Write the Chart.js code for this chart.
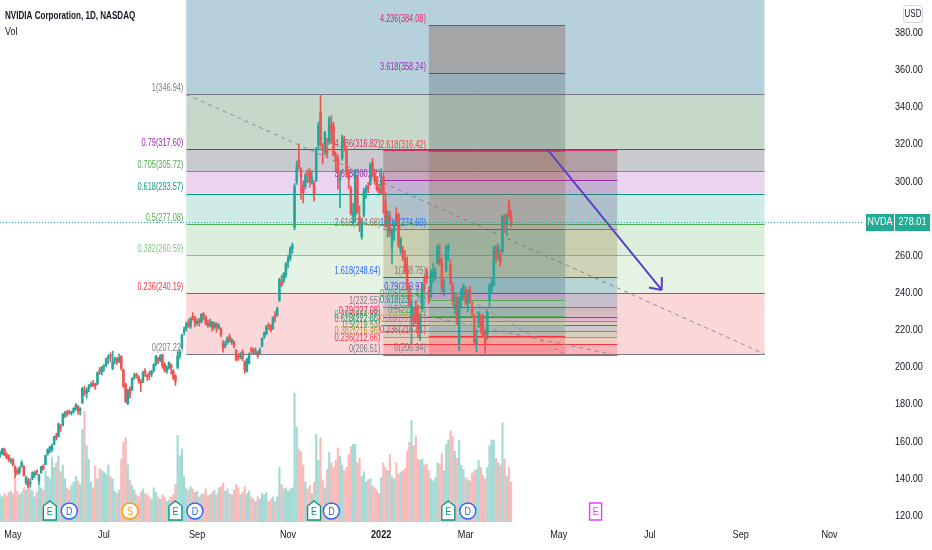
<!DOCTYPE html>
<html>
<head>
<meta charset="utf-8">
<script src="https://cdn.jsdelivr.net/npm/chart.js@4.4.0/dist/chart.umd.min.js"></script>
<style>
  html, body { margin: 0; padding: 0; background: #fff; }
  #wrap { width: 932px; height: 550px; position: relative; }
</style>
</head>
<body>
<div id="wrap"><canvas id="nvdaChart"></canvas></div>
<script>
// daily bars, index 0 = 2021-04-23 ... index 236 = 2022-03-30
const opens = [
  152.5,154.0,156.0,153.3,152.4,149.6,
  150.5,146.5,144.5,143.6,147.0,146.8,138.0,139.0,137.5,140.4,142.2,143.8,139.0,143.5,147.0,147.8,153.5,155.5,155.8,158.8,
  162.7,163.0,167.6,168.8,174.5,176.0,175.5,175.6,176.4,178.0,179.0,176.6,181.0,187.0,186.0,188.5,190.4,191.4,191.0,191.5,198.0,197.5,
  200.6,201.5,205.0,206.2,199.5,203.8,204.8,203.5,206.0,198.6,191.0,180.5,188.5,188.0,194.8,196.0,195.0,192.5,192.3,198.0,195.8,
  196.5,196.5,198.5,202.0,205.0,204.0,206.5,202.0,198.0,199.8,201.5,198.0,195.5,200.0,206.5,210.5,219.0,221.0,223.8,222.0,227.0,226.8,
  224.0,225.0,224.5,228.5,227.0,223.8,223.0,224.5,221.5,223.5,221.5,221.0,213.0,211.5,213.5,216.5,213.8,213.5,209.0,206.0,206.0,
  208.5,203.0,198.0,202.5,209.5,209.6,207.5,208.5,207.5,211.5,216.5,218.0,223.0,222.5,220.8,228.0,228.0,236.0,246.0,246.5,250.0,
  256.5,258.5,264.0,275.5,300.0,311.5,306.0,298.0,297.5,305.0,305.5,299.5,299.0,300.5,320.0,337.0,318.0,316.5,318.0,321.5,331.0,
  330.0,313.0,312.5,300.5,312.5,322.5,317.5,306.0,296.0,281.0,282.0,302.5,281.0,270.5,282.0,294.5,297.5,298.5,310.5,304.0,300.5,296.5,
  298.0,302.5,289.5,276.5,281.5,265.0,272.5,282.5,282.5,263.0,262.5,258.5,255.0,240.5,227.5,228.0,231.5,229.0,221.0,231.5,
  247.5,252.0,241.5,238.0,249.0,249.5,256.0,258.5,256.0,241.0,252.5,263.5,255.5,244.0,231.5,237.5,212.5,237.0,238.5,
  242.0,234.5,242.0,233.5,227.0,212.5,223.5,225.0,226.5,218.5,218.0,236.0,241.5,244.5,263.5,260.5,261.0,262.5,278.5,277.0,289.0,282.0
];
const highs = [
  154.8,156.5,156.6,154.2,153.0,151.2,
  151.0,147.0,145.5,146.7,149.8,147.2,141.5,140.5,140.2,143.8,144.2,144.9,142.5,146.8,147.6,152.9,156.2,157.6,158.7,163.0,
  164.6,170.0,169.3,175.2,176.4,176.9,177.1,176.5,178.3,180.6,179.6,178.4,189.2,189.8,188.9,190.8,192.1,193.0,191.6,197.6,199.9,200.6,
  201.5,205.0,206.8,207.9,208.8,205.6,205.5,207.2,206.3,199.2,191.5,188.2,189.5,194.5,196.9,197.0,195.7,193.5,198.0,199.4,196.5,
  198.0,198.5,202.0,206.5,205.5,207.0,207.3,202.5,200.8,203.0,202.0,199.0,196.0,208.5,209.6,218.0,221.7,224.5,225.8,226.8,229.5,227.5,
  226.0,226.5,229.0,229.7,227.8,225.5,226.0,224.8,224.5,224.0,223.5,221.5,214.5,214.2,216.5,218.0,215.6,214.5,209.8,207.5,208.0,
  209.5,203.6,205.0,207.8,210.8,210.5,210.5,209.0,210.5,216.0,219.0,222.5,224.0,223.0,227.2,230.0,232.5,248.0,249.5,251.0,256.5,
  260.5,264.8,267.0,299.0,311.0,320.4,307.5,300.5,304.5,306.5,307.0,306.0,300.5,318.5,332.0,346.5,320.5,327.0,323.5,335.0,335.5,
  332.0,316.0,314.5,306.0,325.0,324.5,318.5,306.5,297.5,288.5,306.5,303.5,287.0,279.5,296.5,298.0,299.5,310.0,312.5,306.5,303.0,298.5,
  307.0,304.8,294.0,284.5,284.0,274.7,279.0,286.0,283.0,270.0,265.0,263.0,259.5,244.0,236.0,232.5,236.0,233.5,228.8,245.5,
  249.5,253.5,243.5,252.5,256.0,253.5,266.0,266.5,259.0,247.5,265.5,266.8,258.0,245.5,240.5,239.0,238.0,242.5,245.0,
  243.5,242.0,243.5,235.0,228.5,220.5,230.0,228.5,228.5,220.0,230.5,245.0,248.0,265.5,265.5,266.5,263.5,282.0,282.5,282.5,290.5,284.5
];
const lows = [
  151.5,153.2,152.5,150.9,149.2,148.4,
  146.8,140.8,142.1,142.6,146.2,141.5,137.0,135.2,135.5,139.6,140.8,142.2,137.2,143.0,144.8,147.5,152.7,154.0,154.6,158.3,
  160.9,162.5,165.6,168.5,172.9,173.6,174.8,174.3,175.4,177.0,174.8,174.4,180.5,184.8,183.5,186.8,189.5,189.6,188.2,190.5,196.2,196.0,
  197.9,200.4,201.9,203.0,198.8,202.0,201.6,202.5,198.6,189.2,181.0,180.0,183.5,187.5,193.5,194.2,191.5,187.0,191.8,195.2,193.0,
  193.5,195.0,197.5,201.0,202.0,203.0,199.5,197.5,196.8,199.0,196.5,193.5,190.3,199.2,205.0,210.0,217.5,219.5,221.5,221.0,225.5,222.0,
  222.8,222.2,224.0,225.5,222.8,221.5,221.8,219.5,220.5,219.0,220.5,216.5,208.2,210.5,212.5,213.5,212.3,210.5,203.5,203.8,204.5,
  203.5,196.8,197.5,201.8,207.5,207.0,207.0,205.0,207.0,211.0,215.5,217.5,220.5,219.0,220.5,224.5,227.5,235.5,243.5,245.5,248.5,
  253.5,257.5,261.5,274.0,298.5,306.5,290.5,288.5,296.0,299.5,297.0,298.5,289.5,300.0,317.0,318.5,309.5,314.5,313.0,320.0,320.5,
  313.5,305.0,296.0,286.0,311.5,316.5,302.5,296.0,282.0,276.5,278.0,282.5,273.0,269.0,281.0,291.0,294.0,298.0,302.5,298.5,295.0,293.5,
  293.5,283.0,275.5,270.0,270.5,255.7,268.5,277.0,264.5,261.0,257.5,250.5,241.5,233.0,213.0,222.0,223.5,216.0,214.5,230.0,
  240.5,245.0,234.5,237.5,245.5,247.0,255.5,255.0,240.5,238.5,251.5,257.5,244.5,233.5,229.0,223.0,208.9,232.5,236.5,
  233.5,230.0,234.5,227.0,213.0,208.5,221.5,218.5,216.5,208.0,215.0,233.0,240.0,244.0,256.5,258.0,254.5,261.5,272.5,271.0,280.5,275.5
];
const closes = [
  153.8,155.9,153.1,151.4,150.6,150.1,
  147.6,143.5,143.0,146.0,148.8,141.8,140.6,136.0,138.3,143.3,143.3,143.6,142.0,146.5,145.4,152.6,155.7,157.0,157.7,162.4,
  162.5,169.6,167.5,174.9,175.4,175.1,175.2,176.2,178.0,179.7,176.5,178.0,188.7,186.6,187.9,189.9,190.8,190.5,190.2,197.2,197.9,200.0,
  200.8,204.7,205.3,205.9,203.0,204.3,203.0,205.0,199.6,190.1,181.6,187.8,185.8,194.1,195.2,195.6,192.9,191.6,197.2,197.2,195.0,
  196.2,197.9,201.6,206.0,203.6,206.3,200.9,198.5,199.6,202.7,200.0,194.5,192.5,206.0,208.2,217.3,220.5,223.5,222.5,226.4,226.9,223.9,
  224.7,224.0,228.7,227.6,223.5,222.5,223.8,221.0,223.6,222.0,222.6,217.5,210.5,212.5,215.8,214.5,214.8,212.0,204.2,205.0,207.2,
  204.8,198.5,204.5,207.6,209.1,208.3,208.0,206.4,209.4,215.7,218.6,222.2,222.2,220.1,226.9,227.2,231.7,247.2,244.5,250.7,255.7,
  258.3,264.0,265.8,297.5,308.0,308.0,302.0,294.0,303.5,304.0,299.8,302.5,292.6,317.0,329.9,319.6,317.4,326.7,315.0,333.8,326.8,
  314.4,311.0,306.0,303.5,324.0,319.0,304.0,301.5,283.0,283.5,306.0,283.5,277.2,278.0,295.0,296.4,296.4,309.4,303.2,300.0,295.9,294.1,
  301.2,292.9,276.0,281.8,272.5,274.0,278.2,279.9,265.7,268.9,259.0,251.4,242.4,233.7,233.7,224.5,226.0,219.0,228.4,244.9,
  246.4,248.0,236.4,251.5,251.0,251.1,265.1,256.5,242.8,242.0,264.9,265.1,245.1,236.4,233.9,223.9,237.5,241.6,243.8,
  234.9,240.4,236.6,229.4,213.5,215.1,229.8,222.6,217.0,213.3,229.7,244.0,245.2,264.5,258.2,265.2,256.3,281.5,276.9,282.2,281.6,278.01
];
// volume, millions of shares
const volumes = [
  24,22,25,23,26,27,
  25,40,27,24,26,30,28,32,29,27,22,26,33,30,28,45,40,38,57,48,
  52,58,44,50,38,30,28,32,35,40,36,33,81,97,67,55,35,30,49,38,47,45,
  44,42,50,40,38,27,25,28,55,70,74,50,37,32,28,24,22,26,29,25,24,
  22,20,30,26,22,20,24,22,18,19,22,24,33,76,58,64,40,30,28,31,29,26,
  27,22,24,25,29,23,24,26,28,24,30,31,34,27,29,25,24,28,33,30,24,
  26,31,25,27,22,20,18,22,20,25,24,26,18,20,22,18,22,48,33,29,30,
  27,29,30,113,83,64,62,50,35,29,32,25,35,77,54,74,37,30,46,61,52,
  48,54,65,58,50,45,48,59,66,68,68,52,56,40,44,35,37,38,32,30,28,25,
  39,52,48,45,59,40,38,52,42,44,45,47,62,70,89,67,75,55,54,55,
  50,51,45,38,36,39,52,51,60,45,68,72,80,75,62,56,72,50,46,
  39,37,36,43,45,46,54,48,41,38,48,67,72,72,56,52,50,87,55,40,48,35
];

const xTickPos = [6, 48, 91, 133, 176, 215, 258, 300, 342, 383];
const xTickLabels = ['May', 'Jul', 'Sep', 'Nov', '2022', 'Mar', 'May', 'Jul', 'Sep', 'Nov'];
const priceTicks = [120, 140, 160, 180, 200, 220, 240, 260, 280, 300, 320, 340, 360, 380];

// corporate events shown under the volume (bar index, kind)
const eventIdx = [23, 32, 60, 81, 90, 145, 153, 207, 216, 275];
const eventKind = ['E', 'D', 'S', 'E', 'D', 'E', 'D', 'E', 'D', 'F'];

// fib retracements drawn on the chart
const fibRatios = ['0', '0.236', '0.382', '0.5', '0.618', '0.705', '0.79', '1', '1.618', '2.618', '3.618', '4.236'];
const fib1Prices = [207.22, 240.19, 260.59, 277.08, 293.57, 305.72, 317.60, 346.94, 433.29];
const fib2Prices = [206.51, 212.66, 216.46, 219.53, 222.60, 224.87, 227.08, 232.55, 248.64, 274.68, 300.72, 316.82];
const fib3Prices = [206.94, 216.81, 222.91, 227.85, 232.78, 236.42, 239.97, 248.75, 274.60, 316.42, 358.24, 384.08];

const lastPrice = 278.01;
const arrowFrom = [253, 317.0];
const arrowTo = [305.5, 241.7];

const FONT = "'Liberation Sans', Arial, sans-serif";
const UP = '#26a69a', DOWN = '#ef5350';
const TEXT = '#131722';

const fibs = [
  {
    from: 86, to: 353, prices: fib1Prices,
    colors: ['#787b86', '#f23645', '#81c784', '#4caf50', '#089981', '#4caf50', '#9c27b0', '#787b86', '#2962ff'],
    fills: ['rgba(242,54,69,0.2)', 'rgba(129,199,132,0.2)', 'rgba(76,175,80,0.2)', 'rgba(8,153,129,0.2)',
            'rgba(156,39,176,0.2)', 'rgba(120,123,134,0.4)', 'rgba(100,150,110,0.37)', 'rgba(90,150,175,0.44)']
  },
  {
    from: 177, to: 285, prices: fib2Prices,
    colors: ['#787b86', '#f23645', '#b39c2b', '#4caf50', '#089981', '#4caf50', '#e91e63', '#787b86', '#2962ff', '#b5655a', '#9c27b0', '#d6336c'],
    fills: ['rgba(242,54,69,0.22)', 'rgba(180,160,60,0.2)', 'rgba(76,175,80,0.2)', 'rgba(8,153,129,0.2)',
            'rgba(76,175,80,0.2)', 'rgba(156,39,176,0.2)', 'rgba(120,123,134,0.3)', 'rgba(40,120,160,0.25)',
            'rgba(140,110,40,0.25)', 'rgba(100,95,135,0.3)', 'rgba(120,60,70,0.3)']
  },
  {
    from: 198, to: 261, prices: fib3Prices,
    colors: ['#787b86', '#f23645', '#b39c2b', '#4caf50', '#089981', '#4caf50', '#7b3fc4', '#787b86', '#2962ff', '#f23645', '#9c27b0', '#e91e63'],
    fills: ['rgba(242,54,69,0.25)', 'rgba(60,110,110,0.22)', 'rgba(76,175,80,0.2)', 'rgba(8,153,129,0.25)',
            'rgba(76,175,80,0.2)', 'rgba(156,39,176,0.2)', 'rgba(60,110,130,0.3)', 'rgba(60,110,110,0.3)',
            'rgba(150,90,50,0.25)', 'rgba(60,70,80,0.25)', 'rgba(140,110,100,0.45)']
  }
];

const isUp = opens.map((o, i) => closes[i] >= o);

// narrow text, the screenshot's UI font is condensed
function text(ctx, str, x, y, size, color, align, weight, squeeze) {
  const sq = squeeze || 0.85;
  ctx.save();
  ctx.font = (weight || 'normal') + ' ' + size + 'px ' + FONT;
  ctx.fillStyle = color;
  ctx.textBaseline = 'middle';
  ctx.textAlign = 'left';
  const w = ctx.measureText(str).width * sq;
  const left = align === 'right' ? x - w : align === 'center' ? x - w / 2 : x;
  ctx.translate(left, y);
  ctx.scale(sq, 1);
  ctx.fillText(str, 0, 0);
  ctx.restore();
}

const fibPlugin = {
  id: 'fibs',
  beforeDatasetsDraw(chart) {
    const { ctx, chartArea: a, scales: { x, y } } = chart;
    ctx.save();
    ctx.beginPath();
    ctx.rect(a.left, a.top, a.right - a.left, a.bottom - a.top);
    ctx.clip();
    fibs.forEach(f => {
      const x0 = x.getPixelForValue(f.from), x1 = x.getPixelForValue(f.to);
      f.fills.forEach((c, k) => {
        const ya = y.getPixelForValue(f.prices[k]), yb = y.getPixelForValue(f.prices[k + 1]);
        ctx.fillStyle = c;
        ctx.fillRect(x0, yb, x1 - x0, ya - yb);
      });
      ctx.lineWidth = 1;
      f.prices.forEach((p, k) => {
        const yy = Math.round(y.getPixelForValue(p)) + 0.5;
        ctx.strokeStyle = f.colors[k];
        ctx.beginPath();
        ctx.moveTo(x0, yy);
        ctx.lineTo(x1, yy);
        ctx.stroke();
      });
      f.prices.forEach((p, k) => {
        text(ctx, fibRatios[k] + '(' + p.toFixed(2) + ')', x0 - 3, y.getPixelForValue(p) - 6, 10.5, f.colors[k], 'right', 'normal', 0.7);
      });
      ctx.strokeStyle = '#8a8d96';
      ctx.setLineDash([4, 4]);
      ctx.beginPath();
      ctx.moveTo(x0, y.getPixelForValue(f.prices[7]));
      ctx.lineTo(x1, y.getPixelForValue(f.prices[0]));
      ctx.stroke();
      ctx.setLineDash([]);
    });
    ctx.restore();
  }
};

function drawEvent(ctx, cx, cy, kind) {
  const col = { E: '#089981', D: '#2962ff', S: '#ff9800', F: '#e040fb' }[kind];
  ctx.lineWidth = 1.4;
  ctx.strokeStyle = col;
  ctx.fillStyle = '#fff';
  ctx.beginPath();
  if (kind === 'E') {
    ctx.moveTo(cx, cy - 10);
    ctx.lineTo(cx + 6.5, cy - 5);
    ctx.lineTo(cx + 6.5, cy + 9);
    ctx.lineTo(cx - 6.5, cy + 9);
    ctx.lineTo(cx - 6.5, cy - 5);
    ctx.closePath();
  } else if (kind === 'F') {
    ctx.rect(cx - 6, cy - 8, 12, 17);
  } else {
    ctx.arc(cx, cy, 8, 0, Math.PI * 2);
  }
  ctx.fill();
  ctx.stroke();
  text(ctx, kind === 'F' ? 'E' : kind, cx, cy + 1, 10.5, col, 'center', 'normal', 0.85);
}

const overlayPlugin = {
  id: 'overlay',
  afterDraw(chart) {
    const { ctx, chartArea: a, scales: { x, y } } = chart;
    ctx.save();

    // axis labels
    priceTicks.forEach(v => text(ctx, v.toFixed(2), 895, y.getPixelForValue(v), 10.5, TEXT, 'left', 'normal', 0.87));
    xTickPos.forEach((v, k) => text(ctx, xTickLabels[k], x.getPixelForValue(v), 535, 10.5, TEXT, 'center',
      xTickLabels[k] === '2022' ? 'bold' : 'normal', 0.87));

    // arrow
    const sx = x.getPixelForValue(arrowFrom[0]), sy = y.getPixelForValue(arrowFrom[1]);
    const tx = x.getPixelForValue(arrowTo[0]), ty = y.getPixelForValue(arrowTo[1]);
    ctx.strokeStyle = '#5b40c8';
    ctx.lineWidth = 2;
    ctx.beginPath();
    ctx.moveTo(sx, sy);
    ctx.lineTo(tx, ty);
    const ang = Math.atan2(sy - ty, sx - tx);
    [-0.7, 0.7].forEach(d => {
      ctx.moveTo(tx, ty);
      ctx.lineTo(tx + 13 * Math.cos(ang + d), ty + 13 * Math.sin(ang + d));
    });
    ctx.stroke();

    // last price line + labels
    const py = Math.round(y.getPixelForValue(lastPrice)) + 0.5;
    ctx.strokeStyle = UP;
    ctx.lineWidth = 1;
    ctx.setLineDash([1, 2]);
    ctx.beginPath();
    ctx.moveTo(a.left, py);
    ctx.lineTo(a.right, py);
    ctx.stroke();
    ctx.setLineDash([]);
    ctx.fillStyle = '#22ab94';
    ctx.fillRect(866, py - 8.5, 28, 17);
    ctx.fillRect(895, py - 8.5, 35, 17);
    text(ctx, 'NVDA', 880, py, 10.5, '#fff', 'center', 'normal', 0.85);
    text(ctx, lastPrice.toFixed(2), 912.5, py, 10.5, '#fff', 'center', 'normal', 0.87);

    // USD badge
    ctx.strokeStyle = '#d1d4dc';
    ctx.lineWidth = 1;
    ctx.beginPath();
    ctx.roundRect(903.5, 5.5, 19, 17, 3);
    ctx.stroke();
    text(ctx, 'USD', 913, 14.5, 10, TEXT, 'center', 'normal', 0.8);

    // legend text
    text(ctx, 'NVIDIA Corporation, 1D, NASDAQ', 5, 16, 10.5, TEXT, 'left', 'bold', 0.77);
    text(ctx, 'Vol', 5, 32, 10.5, TEXT, 'left', 'normal', 0.85);

    // events
    eventIdx.forEach((idx, k) => drawEvent(ctx, x.getPixelForValue(idx), 511, eventKind[k]));
    ctx.restore();
  }
};

new Chart(document.getElementById('nvdaChart'), {
  type: 'bar',
  data: {
    datasets: [
      {
        label: 'Bodies',
        data: opens.map((o, i) => ({ x: i, y: [o, closes[i]] })),
        backgroundColor: isUp.map(u => u ? UP : DOWN),
        barThickness: 1.9,
        minBarLength: 1,
        grouped: false,
        order: 1
      },
      {
        label: 'Wicks',
        data: lows.map((l, i) => ({ x: i, y: [l, highs[i]] })),
        backgroundColor: isUp.map(u => u ? UP : DOWN),
        barThickness: 1,
        grouped: false,
        order: 2
      },
      {
        label: 'Vol',
        yAxisID: 'yv',
        data: volumes.map((v, i) => ({ x: i, y: v })),
        backgroundColor: isUp.map(u => u ? 'rgba(38,166,154,0.42)' : 'rgba(239,83,80,0.4)'),
        barThickness: 1.5,
        grouped: false,
        order: 3
      }
    ]
  },
  options: {
    responsive: true,
    maintainAspectRatio: false,
    animation: false,
    events: [],
    layout: { padding: 0 },
    plugins: { legend: { display: false }, tooltip: { enabled: false } },
    scales: {
      x: {
        type: 'linear',
        min: 0,
        max: 398,
        offset: false,
        grid: { display: false },
        border: { display: false },
        ticks: { display: false },
        afterFit: s => { s.height = 28; s.paddingLeft = 0; s.paddingRight = 0; }
      },
      y: {
        position: 'right',
        min: 116.81,
        max: 397.76,
        grid: { display: false },
        border: { display: false },
        ticks: { display: false },
        afterFit: s => { s.width = 70; s.paddingTop = 0; s.paddingBottom = 0; }
      },
      yv: {
        display: false,
        min: 0,
        max: 458
      }
    }
  },
  plugins: [fibPlugin, overlayPlugin]
});
</script>
</body>
</html>
